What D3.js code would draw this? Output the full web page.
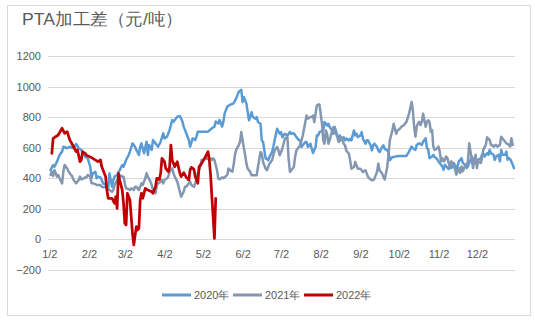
<!DOCTYPE html>
<html><head><meta charset="utf-8">
<script src="https://cdn.jsdelivr.net/npm/d3@7"></script>
<style>body{margin:0;background:#fff}svg text{font-family:"Liberation Sans",Arial,sans-serif}</style>
</head><body>
<svg id="c" width="535" height="322"></svg>
<script>
const title = "PTA加工差（元/吨）";
const seriesNames = ["2020年","2021年","2022年"];
const seriesColors = ["#5B9BD5","#8497B0","#C00000"];
const yTicks = [-200,0,200,400,600,800,1000,1200];
const xTickLabels = ["1/2","2/2","3/2","4/2","5/2","6/2","7/2","8/2","9/2","10/2","11/2","12/2"];
// day of year (Jan 1 = 0)
const days2020 = [2,4,5,7,9,11,12,15,17,20,22,24,26,29,31,33,34,35,37,38,39,41,42,43,46,47,48,50,51,52,54,56,58,59,61,63,64,66,68,69,71,72,73,75,77,78,79,81,82,84,85,86,88,90,91,93,95,97,98,101,103,105,106,108,110,111,113,115,116,117,120,123,125,128,130,131,133,134,136,137,138,140,142,145,147,149,151,152,153,155,156,157,159,160,162,163,164,166,167,168,170,171,172,173,175,176,177,179,181,182,183,185,187,189,190,192,194,196,197,198,199,201,202,203,205,206,207,209,210,211,212,215,216,218,219,220,222,223,224,226,227,228,229,231,232,233,235,236,237,239,240,241,242,244,245,246,248,249,250,252,253,254,255,257,258,259,261,262,263,265,266,267,269,270,272,275,278,280,282,284,285,287,288,290,292,293,295,296,297,298,300,301,302,304,305,306,308,309,310,311,313,314,315,317,318,319,321,322,323,324,326,327,328,330,331,332,334,335,336,338,339,340,341,343,344,345,346,348,349,350,352,353,354,355,357,358,359,360,361,363,364];
const values2020 = [452,485,474,507,551,573,605,595,605,595,623,595,584,540,529,474,398,431,441,398,409,404,387,365,354,332,431,343,387,409,420,452,485,474,518,551,573,627,605,584,551,605,627,562,638,551,616,584,649,627,616,605,638,693,660,671,715,780,769,802,806,770,737,693,649,605,660,649,671,704,704,704,704,726,737,770,758,780,737,770,824,868,879,890,922,966,978,898,930,887,832,778,832,800,789,800,767,756,647,636,527,527,516,538,570,603,647,723,690,701,668,690,679,701,690,694,668,647,647,603,614,636,636,603,625,592,564,603,679,679,701,712,767,745,756,734,712,690,734,679,658,679,647,668,647,658,647,657,647,712,679,690,668,679,701,658,625,647,647,614,581,614,625,603,581,570,603,614,592,581,570,516,538,538,542,545,545,545,573,606,595,584,617,628,617,638,660,595,588,530,541,552,537,524,509,498,476,454,487,476,459,487,465,498,480,454,509,519,530,498,487,465,476,519,541,519,498,509,519,530,552,563,541,563,552,584,563,552,519,541,552,509,584,552,552,573,519,530,524,487,465];
const days2021 = [2,3,4,5,7,8,9,11,12,13,15,16,17,19,20,22,24,25,26,28,29,30,31,33,34,35,37,38,41,42,43,45,46,48,50,51,52,54,55,56,58,59,60,61,63,64,65,67,68,69,71,72,73,74,76,77,78,80,81,82,84,85,86,88,89,90,91,93,94,95,97,98,99,101,102,103,104,106,107,108,110,111,112,114,115,116,117,119,120,121,124,125,127,128,129,130,132,133,134,136,137,138,140,141,142,144,145,146,147,149,150,151,152,154,155,156,158,159,162,163,164,166,167,168,170,171,172,173,175,176,177,179,180,181,183,184,185,187,188,189,190,192,193,194,196,197,198,199,201,202,203,205,206,207,208,210,211,212,213,214,215,216,217,218,219,220,222,223,224,226,227,228,229,231,232,233,235,236,237,239,240,241,242,244,245,246,248,249,250,252,253,254,255,257,258,259,261,262,263,265,266,267,269,270,271,272,273,275,276,278,279,280,282,284,285,286,287,288,289,290,291,292,293,294,295,296,297,298,299,300,301,302,304,305,306,307,308,309,310,311,312,313,314,315,317,318,319,321,322,323,324,326,327,328,329,330,332,333,334,335,336,338,339,340,342,343,345,346,347,348,350,351,353,354,356,357,358,360,361,362,363];
const values2021 = [420,442,413,452,409,420,398,365,442,485,463,442,431,409,387,365,387,409,391,398,404,404,420,409,365,365,360,354,354,343,339,343,332,321,310,321,354,387,398,420,409,409,365,332,326,321,332,321,343,343,321,343,365,354,398,431,409,376,354,321,300,354,365,376,387,365,387,398,409,442,463,431,409,376,343,310,278,310,343,343,365,376,354,343,365,387,431,474,518,518,529,523,529,518,529,518,452,398,391,404,398,404,420,463,452,442,485,551,584,616,638,701,647,549,494,461,440,418,418,418,472,570,559,505,461,451,472,494,516,549,581,603,581,549,592,625,658,668,520,440,451,472,538,581,603,614,647,679,767,810,789,800,800,810,767,876,882,882,821,756,647,625,712,690,625,647,712,734,712,668,636,647,668,625,614,581,559,516,461,472,505,483,461,461,451,440,451,429,407,390,385,385,396,440,494,451,429,407,390,472,559,647,712,756,723,690,712,725,736,747,758,768,822,898,844,736,671,736,758,768,747,768,822,779,736,768,779,768,703,714,606,584,595,606,573,509,530,509,519,541,530,498,476,509,476,454,422,465,433,476,444,487,487,509,628,574,465,519,552,465,509,498,530,584,617,667,649,617,617,606,617,606,617,671,649,638,628,617,606,660,617];
const days2022 = [3,4,8,11,13,15,17,20,22,23,25,26,27,29,30,35,39,41,42,45,46,47,50,52,53,54,55,56,58,59,60,61,62,64,65,66,67,69,70,71,72,73,74,76,78,81,82,84,85,87,88,89,91,92,94,95,96,97,99,101,103,104,106,108,110,111,112,114,115,117,118,120,123,125,126,127,128,130,131];
const values2022 = [562,660,682,726,693,704,650,605,573,584,507,518,573,562,550,529,507,518,474,409,321,267,267,234,278,201,431,387,321,234,103,92,300,256,146,37,-39,81,59,70,256,300,267,332,321,310,300,343,398,391,431,529,507,463,441,474,616,518,474,507,431,409,435,404,387,453,470,457,409,365,474,496,540,573,518,420,278,4,267];

const svg = d3.select("#c");
const base = new Date(2021,0,1);
const toDate = d => d3.timeDay.offset(base, d);
const x = d3.scaleTime().domain([base, new Date(2021,11,31)]).range([48,514]);
const y = d3.scaleLinear().domain([-200,1200]).range([269.5,56]);

svg.append("rect").attr("x",7.5).attr("y",5.5).attr("width",523).attr("height",310)
  .attr("fill","#fff").attr("stroke","#d9d9d9");

svg.append("text").attr("x",22).attr("y",25).attr("font-size",17).attr("fill","#595959")
  .attr("textLength",161).attr("lengthAdjust","spacingAndGlyphs").text(title);

// gridlines
svg.append("g").selectAll("line").data(yTicks).join("line")
  .attr("x1",48).attr("x2",515).attr("y1",d=>Math.round(y(d))+0.5).attr("y2",d=>Math.round(y(d))+0.5)
  .attr("stroke","#d9d9d9").attr("stroke-width",1);

// y axis labels
const yAxis = d3.axisLeft(y).tickValues(yTicks).tickSize(0).tickPadding(0).tickFormat(d3.format("d"));
const gy = svg.append("g").attr("transform","translate(41,0)").call(yAxis);
gy.select(".domain").remove();
gy.selectAll("text").attr("font-size",11).attr("fill","#595959").attr("font-family","Liberation Sans, Arial, sans-serif");

// x axis labels at 2nd of each month
const monthTicks = d3.range(12).map(m => new Date(2021,m,2));
const xAxis = d3.axisBottom(x).tickValues(monthTicks).tickSize(0).tickPadding(0)
  .tickFormat((d,i)=>xTickLabels[i]);
const gx = svg.append("g").attr("transform","translate(0,250)").call(xAxis);
gx.select(".domain").remove();
gx.selectAll("text").attr("font-size",11).attr("fill","#595959").attr("font-family","Liberation Sans, Arial, sans-serif");

const line = d3.line().x(d=>x(d[0])).y(d=>y(d[1]));
const series = [[days2020,values2020],[days2021,values2021],[days2022,values2022]];
series.forEach((s,i)=>{
  const data = s[0].map((d,j)=>[toDate(d), s[1][j]]);
  svg.append("path").datum(data).attr("d",line).attr("fill","none")
    .attr("stroke",seriesColors[i]).attr("stroke-width",i==2?2.75:2.5)
    .attr("stroke-linejoin","round").attr("stroke-linecap","round");
});

// legend
const legX = [162,233,304];
seriesNames.forEach((n,i)=>{
  svg.append("line").attr("x1",legX[i]).attr("x2",legX[i]+29).attr("y1",295).attr("y2",295)
    .attr("stroke",seriesColors[i]).attr("stroke-width",3);
  svg.append("text").attr("x",legX[i]+32).attr("y",299).attr("font-size",11).attr("fill","#595959").text(n);
});
</script>
</body></html>
